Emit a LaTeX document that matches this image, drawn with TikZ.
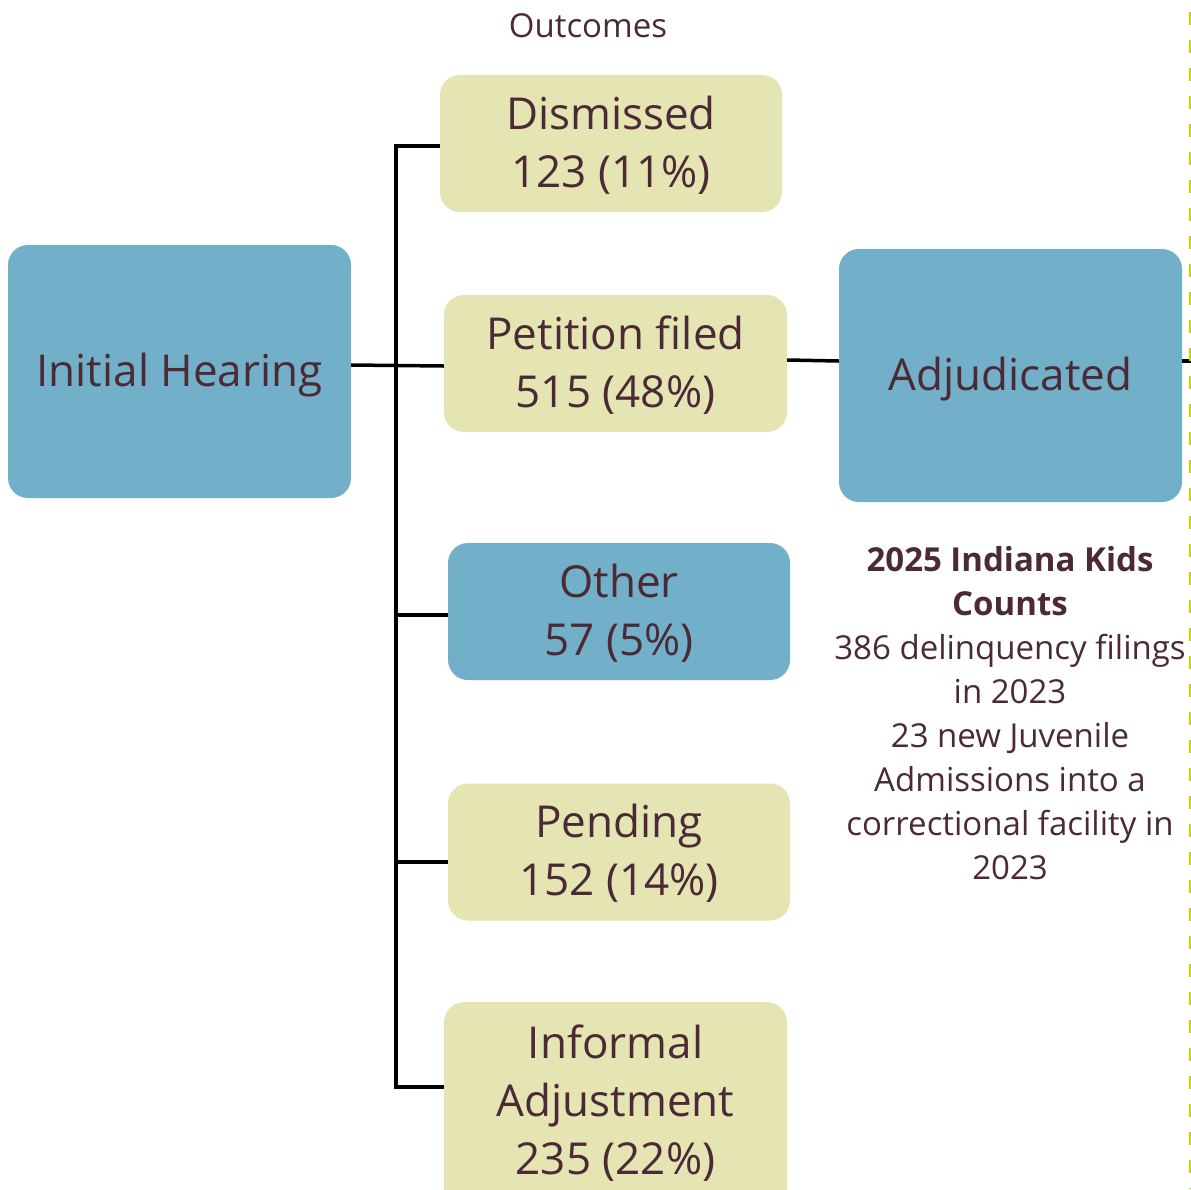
\documentclass[tikz,border=0pt]{standalone}
\usepackage{fontspec}
\setmainfont{Open Sans}
\definecolor{boxblue}{HTML}{72AFC8}
\definecolor{boxyellow}{HTML}{E5E5B3}
\definecolor{txt}{HTML}{4B2A36}
\definecolor{dashc}{HTML}{C8D400}
\begin{document}
\begin{tikzpicture}[x=1pt,y=-1pt,
  box/.style={rounded corners=20pt, inner sep=0pt, text=txt, align=center, text depth=4pt, font=\fontsize{44}{58}\selectfont},
  bluebox/.style={box, fill=boxblue},
  yelbox/.style={box, fill=boxyellow},
  conn/.style={line width=3.5pt, black}]
\useasboundingbox (0,0) rectangle (1191,1189);
\clip (0,0) rectangle (1191,1189);
\fill[white] (0,0) rectangle (1191,1189);
\node[text=txt, font=\fontsize{33}{36}\selectfont] (title) at (588,26) {Outcomes};
\node[bluebox, minimum width=343pt, minimum height=253pt] (ih) at (179.5,371.5) {Initial Hearing};
\node[yelbox, minimum width=342pt, minimum height=137pt] (dis) at (611,143.5) {Dismissed\\123 (11\%)};
\node[yelbox, minimum width=343pt, minimum height=137pt] (pet) at (615.5,363.5) {Petition filed\\515 (48\%)};
\node[bluebox, minimum width=342pt, minimum height=137pt] (oth) at (619,611.5) {Other\\57 (5\%)};
\node[yelbox, minimum width=342pt, minimum height=137pt] (pen) at (619,852) {Pending\\152 (14\%)};
\node[yelbox, minimum width=343pt, minimum height=230pt, anchor=north] (inf) at (615.5,1002) {};
\node[text=txt, align=center, text depth=4pt, font=\fontsize{44}{58}\selectfont] (inft) at (615.5,1101.5) {Informal\\Adjustment\\235 (22\%)};
\node[bluebox, minimum width=343pt, minimum height=253pt] (adj) at (1010.5,375.5) {Adjudicated};
\node[text=txt, align=center, font=\fontsize{33}{44}\selectfont] (kids) at (1010,713) {\textbf{2025 Indiana Kids}\\\textbf{Counts}\\386 delinquency filings\\in 2023\\23 new Juvenile\\Admissions into a\\correctional facility in\\2023};
\coordinate (redge) at (1191,361);
\draw[conn] (ih.east |- 0,365) -- (pet.west |- 0,366);
\draw[conn] (dis.west |- 0,146) -| (396,1087) -- (inf.west |- 0,1087);
\draw[conn] (396,615) -- (oth.west |- 0,615);
\draw[conn] (396,862) -- (pen.west |- 0,862);
\draw[conn] (pet.east |- 0,360) -- (adj.west |- 0,361);
\draw[conn] (adj.east |- 0,361) -- (redge);
\draw[dashc, line width=2pt, dash pattern=on 13pt off 15pt] (1190,12) -- (1190,1189);
\end{tikzpicture}
\end{document}
